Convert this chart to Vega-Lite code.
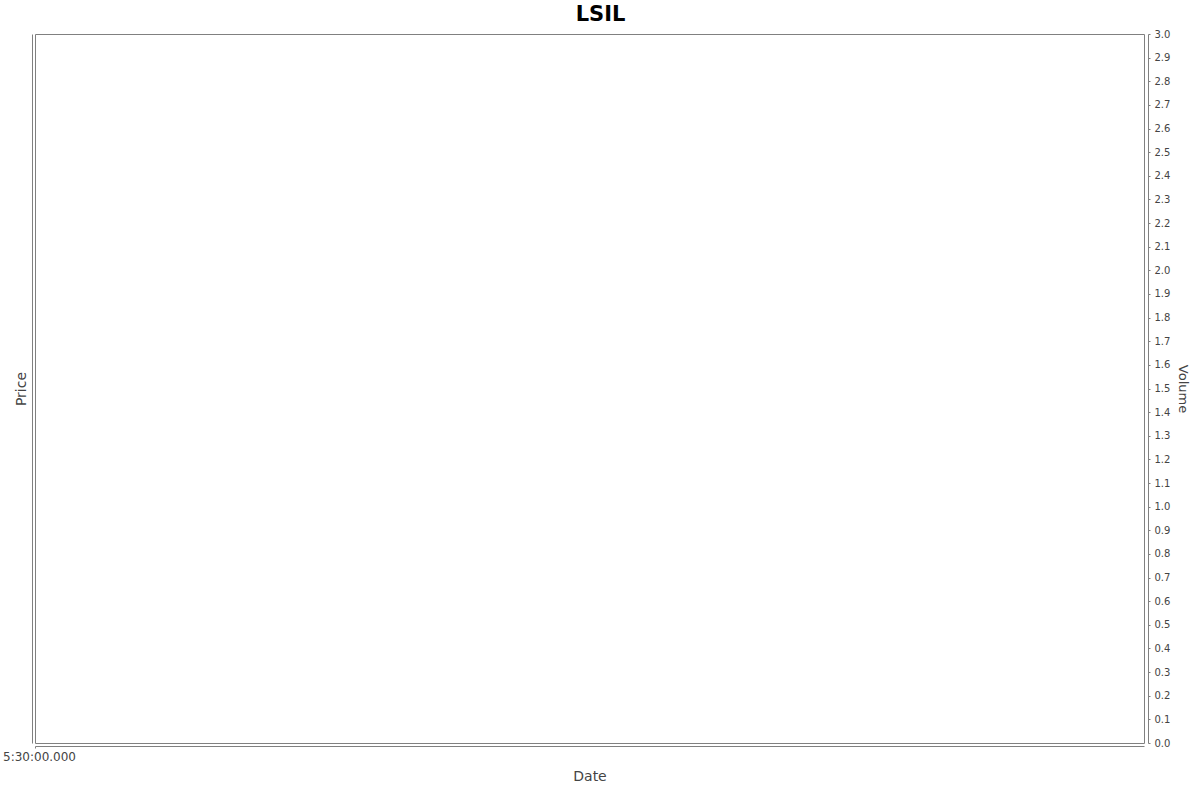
{
  "$schema": "https://vega.github.io/schema/vega-lite/v6.json",
  "width": 1109,
  "height": 709,
  "autosize": "none",
  "padding": {"left": 35, "top": 34, "right": 56, "bottom": 49},
  "background": "white",
  "title": {
    "text": "LSIL",
    "font": "DejaVu Sans",
    "fontSize": 21,
    "fontWeight": "bold",
    "color": "black",
    "anchor": "middle",
    "dx": 11,
    "offset": 4
  },
  "config": {
    "view": {"stroke": "#808080", "strokeWidth": 1},
    "axis": {
      "font": "DejaVu Sans",
      "labelFont": "DejaVu Sans",
      "titleFont": "DejaVu Sans",
      "domainColor": "#808080",
      "tickColor": "#808080",
      "labelColor": "#444444",
      "titleColor": "#444444",
      "titleFontWeight": "normal",
      "grid": false
    }
  },
  "data": {
    "values": [
      {"date": "2024-01-01T05:30:00Z", "price": null, "volume": null}
    ]
  },
  "layer": [
    {
      "mark": {"type": "point", "opacity": 0},
      "encoding": {
        "x": {
          "field": "date",
          "type": "temporal",
          "title": "Date",
          "scale": {"type": "utc", "domain": ["2024-01-01T05:30:00Z", "2024-01-02T05:30:00Z"]},
          "axis": {
            "values": ["2024-01-01T05:30:00Z"],
            "format": "%-H:%M:%S.%L",
            "offset": 3,
            "tickSize": 2,
            "labelFontSize": 12,
            "labelPadding": 3,
            "labelAlign": "center",
            "labelFlush": false,
            "labelOffset": 4,
            "titleFontSize": 14,
            "titlePadding": 7
          }
        },
        "y": {
          "field": "price",
          "type": "quantitative",
          "title": "Price",
          "scale": {"domain": [0, 1]},
          "axis": {
            "orient": "left",
            "offset": 3,
            "ticks": false,
            "labels": false,
            "titleFontSize": 14,
            "titlePadding": 4
          }
        }
      }
    },
    {
      "mark": {"type": "point", "opacity": 0},
      "encoding": {
        "x": {"field": "date", "type": "temporal"},
        "y": {
          "field": "volume",
          "type": "quantitative",
          "title": "Volume",
          "scale": {"domain": [0, 3], "nice": false, "zero": true},
          "axis": {
            "orient": "right",
            "offset": 4,
            "values": [0, 0.1, 0.2, 0.3, 0.4, 0.5, 0.6, 0.7, 0.8, 0.9, 1, 1.1, 1.2, 1.3, 1.4, 1.5, 1.6, 1.7, 1.8, 1.9, 2, 2.1, 2.2, 2.3, 2.4, 2.5, 2.6, 2.7, 2.8, 2.9, 3],
            "format": ".1f",
            "tickSize": 2,
            "labelFontSize": 10,
            "labelPadding": 4,
            "labelBaseline": "middle",
            "labelFlush": false,
            "labelOverlap": false,
            "titleFontSize": 13,
            "titleAngle": 90,
            "titlePadding": 6
          }
        }
      }
    }
  ],
  "resolve": {"scale": {"y": "independent"}}
}
